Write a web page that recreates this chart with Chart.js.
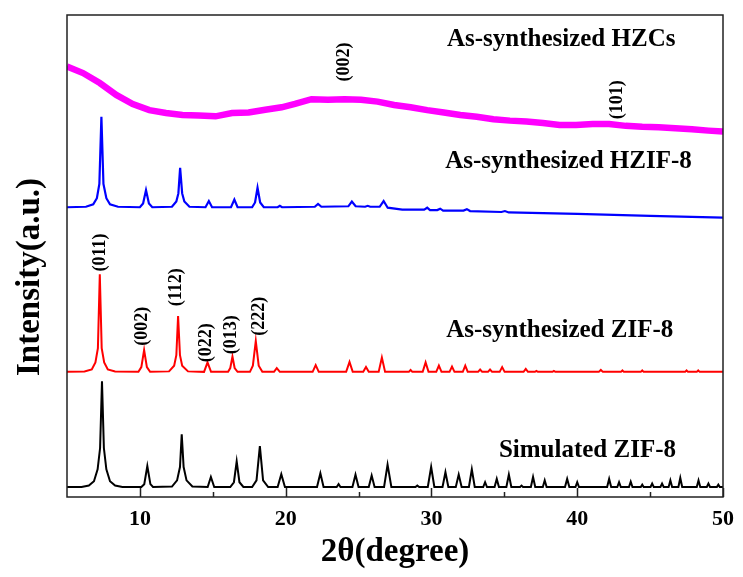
<!DOCTYPE html>
<html>
<head>
<meta charset="utf-8">
<script src="https://cdn.jsdelivr.net/npm/chart.js@4.4.0/dist/chart.umd.min.js"></script>
<style>
  html, body { margin: 0; padding: 0; background: #fff; }
  #wrap { width: 743px; height: 577px; }
</style>
</head>
<body>
<div id="wrap"><canvas id="xrd" width="743" height="577"></canvas></div>
<script>
"use strict";

// x axis (2theta, degree)
const xTicks = [10, 20, 30, 40, 50]
const xMinorTicks = [15, 25, 35, 45]

// [2theta, intensity], stacked curves (offsets included)
const simulated = [
    [5, 0.8], [6.0, 0.8], [6.5, 1.1], [6.85, 2.0], [7.1, 4.5], [7.27, 9], [7.4, 23.0], [7.53, 9], [7.7, 4.5], [7.95, 2.0], [8.3, 1.1], [8.8, 0.8],
    [10.1, 0.8], [10.3, 1.4], [10.51, 5.2], [10.72, 1.4], [10.9, 0.8],
    [12.2, 0.9], [12.55, 2.2], [12.75, 5], [12.87, 11.9], [13.0, 5], [13.2, 2.2], [13.6, 0.9],
    [14.65, 0.8], [14.87, 2.9], [15.1, 0.8],
    [16.2, 0.8], [16.45, 1.8], [16.64, 6.2], [16.83, 1.8], [17.1, 0.8],
    [17.7, 0.8], [18.0, 2.2], [18.23, 9.4], [18.45, 2.2], [18.8, 0.8],
    [19.45, 0.8], [19.7, 3.5], [19.95, 0.8],
    [22.15, 0.8], [22.38, 3.7], [22.6, 0.8],
    [23.5, 0.8], [23.63, 1.4], [23.76, 0.8],
    [24.58, 0.8], [24.79, 3.4], [25.0, 0.8],
    [25.7, 0.8], [25.9, 3.2], [26.1, 0.8],
    [26.75, 0.8], [26.99, 5.5], [27.25, 0.8],
    [28.9, 0.8], [29.03, 1.1], [29.16, 0.8],
    [29.75, 0.8], [29.98, 5.0], [30.2, 0.8],
    [30.76, 0.8], [30.96, 3.9], [31.16, 0.8],
    [31.67, 0.8], [31.87, 3.4], [32.07, 0.8],
    [32.57, 0.8], [32.77, 4.5], [32.97, 0.8],
    [33.55, 0.8], [33.68, 1.8], [33.81, 0.8],
    [34.33, 0.8], [34.48, 2.5], [34.63, 0.8],
    [35.14, 0.8], [35.31, 3.4], [35.48, 0.8],
    [36.08, 0.8], [36.18, 1.1], [36.28, 0.8],
    [36.82, 0.8], [36.97, 2.9], [37.12, 0.8],
    [37.64, 0.8], [37.77, 2.2], [37.9, 0.8],
    [39.16, 0.8], [39.31, 2.5], [39.46, 0.8],
    [39.88, 0.8], [40.0, 1.8], [40.12, 0.8],
    [42.05, 0.8], [42.19, 2.5], [42.33, 0.8],
    [42.75, 0.8], [42.87, 1.8], [42.99, 0.8],
    [43.55, 0.8], [43.67, 1.9], [43.79, 0.8],
    [44.36, 0.8], [44.46, 1.3], [44.56, 0.8],
    [45.03, 0.8], [45.14, 1.5], [45.25, 0.8],
    [45.71, 0.8], [45.82, 1.5], [45.93, 0.8],
    [46.27, 0.8], [46.39, 2.2], [46.51, 0.8],
    [46.94, 0.8], [47.07, 2.7], [47.2, 0.8],
    [48.2, 0.8], [48.32, 2.2], [48.44, 0.8],
    [48.89, 0.8], [49.0, 1.5], [49.11, 0.8],
    [49.58, 0.8], [49.68, 1.3], [49.78, 0.8], [50, 0.8]
]

const zif8 = [
    [5, 25.0], [6.2, 25.1], [6.7, 25.5], [6.95, 27], [7.12, 30], [7.25, 45.5], [7.38, 30], [7.55, 27], [7.8, 25.5], [8.3, 25.1],
    [9.9, 25.0], [10.1, 26], [10.29, 29.6], [10.48, 26], [10.7, 25.0],
    [12.0, 25.1], [12.35, 26.3], [12.5, 28.5], [12.62, 36.75], [12.75, 28.5], [12.9, 26.3], [13.3, 25.1],
    [14.4, 25.0], [14.64, 27.0], [14.88, 25.0],
    [16.05, 25.0], [16.2, 25.8], [16.35, 28.2], [16.5, 25.8], [16.7, 25.0],
    [17.55, 25.0], [17.75, 26.3], [17.95, 31.5], [18.15, 26.3], [18.4, 25.0],
    [19.2, 25.0], [19.39, 25.8], [19.6, 25.0],
    [21.85, 25.0], [22.06, 26.4], [22.27, 25.0],
    [24.15, 25.0], [24.38, 27.1], [24.6, 25.0],
    [25.32, 25.0], [25.51, 26.0], [25.7, 25.0],
    [26.38, 25.0], [26.6, 28.0], [26.82, 25.0],
    [28.45, 25.0], [28.57, 25.4], [28.69, 25.0],
    [29.4, 25.0], [29.6, 27.0], [29.8, 25.0],
    [30.33, 25.0], [30.51, 26.3], [30.69, 25.0],
    [31.24, 25.0], [31.41, 26.1], [31.58, 25.0],
    [32.15, 25.0], [32.32, 26.3], [32.49, 25.0],
    [33.2, 25.0], [33.34, 25.5], [33.48, 25.0],
    [33.88, 25.0], [34.02, 25.5], [34.16, 25.0],
    [34.68, 25.0], [34.85, 26.0], [35.02, 25.0],
    [36.32, 25.0], [36.47, 25.6], [36.62, 25.0],
    [37.1, 25.0], [37.2, 25.2], [37.3, 25.0],
    [38.3, 25.0], [38.4, 25.2], [38.5, 25.0],
    [41.48, 25.0], [41.62, 25.4], [41.76, 25.0],
    [43.0, 25.0], [43.1, 25.3], [43.2, 25.0],
    [44.36, 25.0], [44.46, 25.3], [44.56, 25.0],
    [47.4, 25.0], [47.5, 25.3], [47.6, 25.0],
    [48.2, 25.0], [48.3, 25.3], [48.4, 25.0], [50, 25.0]
]

const hzif8 = [
    [5, 59.6], [6.3, 59.7], [6.8, 60.2], [7.05, 61.5], [7.22, 64.5], [7.36, 78.6], [7.5, 64.5], [7.7, 61.5], [7.95, 60.2], [8.5, 59.7],
    [10.0, 59.6], [10.22, 60.4], [10.42, 63.2], [10.62, 60.4], [10.85, 59.6],
    [12.2, 59.7], [12.5, 60.8], [12.64, 62.5], [12.76, 67.9], [12.9, 62.5], [13.05, 60.8], [13.4, 59.7],
    [14.5, 59.6], [14.73, 60.9], [14.95, 59.6],
    [16.25, 59.6], [16.48, 61.2], [16.7, 59.6],
    [17.7, 59.6], [17.9, 60.6], [18.07, 63.7], [18.25, 60.6], [18.5, 59.6],
    [19.45, 59.6], [19.6, 59.9], [19.75, 59.6],
    [22.0, 59.7], [22.22, 60.3], [22.45, 59.7],
    [24.3, 59.8], [24.54, 60.8], [24.8, 59.8],
    [25.45, 59.7], [25.63, 59.9], [25.8, 59.7],
    [26.45, 59.7], [26.72, 60.9], [27.0, 59.5],
    [28.0, 59.1], [29.5, 59.1], [29.71, 59.5], [29.9, 59.0],
    [30.4, 59.0], [30.6, 59.3], [30.8, 58.9],
    [32.2, 58.9], [32.43, 59.2], [32.65, 58.8],
    [34.8, 58.6], [35.04, 58.8], [35.3, 58.5],
    [40, 58.2], [45, 57.8], [50, 57.4]
]

const hzcs = [
    [5.0, 89.2], [6.1, 87.8], [7.25, 85.7], [8.38, 83.2], [9.51, 81.3], [10.65, 80.0], [11.79, 79.4],
    [12.92, 79.0], [14.05, 78.9], [15.19, 78.7], [16.32, 79.4], [17.46, 79.5], [18.6, 80.1], [19.72, 80.6],
    [20.64, 81.3], [21.77, 82.3], [22.9, 82.2], [24.04, 82.3], [25.17, 82.2], [26.3, 81.8], [27.44, 81.1],
    [28.57, 80.6], [29.71, 80.0], [30.85, 79.5], [31.98, 79.0], [33.11, 78.6], [34.25, 78.1], [35.38, 77.8],
    [36.52, 77.6], [37.65, 77.3], [38.79, 76.9], [39.92, 76.9], [41.06, 77.1], [42.19, 77.1], [43.33, 76.7],
    [44.46, 76.5], [45.59, 76.4], [46.73, 76.2], [47.87, 76.0], [49.0, 75.7], [50, 75.5]
]

const seriesNames = ['Simulated ZIF-8', 'As-synthesized ZIF-8', 'As-synthesized HZIF-8', 'As-synthesized HZCs']
const seriesColors = ['#000000', '#ff0000', '#0000ff', '#ff00ff']

// curve name labels: [text, 2theta, intensity] (text centre)
const nameLabels = [
    [seriesNames[3], 38.9, 94.9],
    [seriesNames[2], 39.4, 69.2],
    [seriesNames[1], 38.8, 33.6],
    [seriesNames[0], 40.7, 8.45]
]

// Miller index labels: [text, 2theta, intensity at text start]
const hklLabels = [
    ['(011)', 7.29, 46.1],
    ['(002)', 10.14, 30.5],
    ['(112)', 12.51, 38.8],
    ['(022)', 14.55, 27.0],
    ['(013)', 16.25, 28.7],
    ['(222)', 18.19, 32.6],
    ['(002)', 24.0, 86.0],
    ['(101)', 42.76, 78.1]
]

const FONT = '"Liberation Serif", "Times New Roman", serif'

const framePlugin = {
    id: 'frame',
    afterDraw(chart) {
        const { ctx, chartArea: { left, right, top, bottom }, scales: { x, y } } = chart
        ctx.save()
        ctx.strokeStyle = '#222'
        ctx.lineWidth = 1.5
        ctx.strokeRect(left, top, right - left, bottom - top)

        // inward ticks on the bottom axis
        ctx.beginPath()
        xTicks.forEach(v => {
            const px = Math.round(x.getPixelForValue(v)) + 0.5
            ctx.moveTo(px, bottom)
            ctx.lineTo(px, bottom - 9)
        })
        xMinorTicks.forEach(v => {
            const px = Math.round(x.getPixelForValue(v)) + 0.5
            ctx.moveTo(px, bottom)
            ctx.lineTo(px, bottom - 5)
        })
        ctx.stroke()

        ctx.fillStyle = '#000'
        ctx.font = `bold 25px ${FONT}`
        ctx.textAlign = 'center'
        ctx.textBaseline = 'middle'
        nameLabels.forEach(([text, tx, ty]) => {
            ctx.fillText(text, x.getPixelForValue(tx), y.getPixelForValue(ty))
        })

        ctx.font = `bold 18px ${FONT}`
        ctx.textAlign = 'left'
        hklLabels.forEach(([text, tx, ty]) => {
            ctx.save()
            ctx.translate(x.getPixelForValue(tx), y.getPixelForValue(ty))
            ctx.rotate(-Math.PI / 2)
            ctx.fillText(text, 0, 0)
            ctx.restore()
        })

        // axis titles
        ctx.font = `bold 33px ${FONT}`
        ctx.textAlign = 'center'
        ctx.fillText('2θ(degree)', (left + right) / 2, 552)
        ctx.save()
        ctx.translate(30, 277)
        ctx.rotate(-Math.PI / 2)
        ctx.fillText('Intensity(a.u.)', 0, 0)
        ctx.restore()
        ctx.restore()
    }
}

const curves = [simulated, zif8, hzif8, hzcs]
const widths = [2, 2, 2.2, 6.5]

new Chart('xrd', {
    type: 'line',
    data: {
        datasets: curves.map((curve, i) => ({
            label: seriesNames[i],
            data: curve,
            borderColor: seriesColors[i],
            borderWidth: widths[i],
            pointRadius: 0,
            tension: 0,
            fill: false
        }))
    },
    options: {
        responsive: false,
        animation: false,
        layout: { padding: { top: 15, right: 15, left: 0, bottom: 0 } },
        plugins: { legend: { display: false }, tooltip: { enabled: false } },
        scales: {
            x: {
                type: 'linear',
                min: 5,
                max: 50,
                afterBuildTicks: scale => { scale.ticks = xTicks.map(value => ({ value })) },
                afterFit: scale => { scale.height = 80 },
                grid: { display: false, drawTicks: false },
                border: { display: false },
                ticks: {
                    padding: 9,
                    color: '#000',
                    font: { family: FONT, size: 22, weight: 'bold' }
                }
            },
            y: {
                min: -1.3,
                max: 100,
                afterFit: scale => { scale.width = 67 },
                grid: { display: false, drawTicks: false },
                border: { display: false },
                ticks: { display: false }
            }
        }
    },
    plugins: [framePlugin]
})
</script>
</body>
</html>
